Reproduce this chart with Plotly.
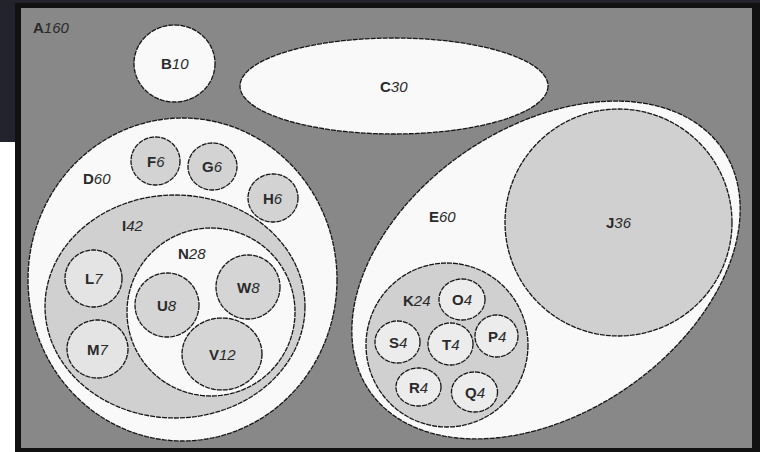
import numpy as np
import plotly.graph_objects as go

# ===== 数据：名称与数值 =====
names = ["A", "B", "C", "D", "E", "F", "G", "H", "I", "J", "K", "L",
         "M", "N", "O", "P", "Q", "R", "S", "T", "U", "V", "W"]
values = [160, 10, 30, 60, 60, 6, 6, 6, 42, 36, 24, 7,
          7, 28, 4, 4, 4, 4, 4, 4, 8, 12, 8]

# ===== 几何：中心、半轴、旋转角（像素坐标）=====
geom = {
    "B": (174.5, 63.5, 40.5, 38.5, 0),
    "C": (394, 86, 154, 48, 0),
    "D": (182.5, 279.5, 154.5, 161.5, 0),
    "E": (546, 270, 214, 143, 34.4),
    "F": (155.5, 161, 24.5, 24, 0),
    "G": (212.5, 166.5, 24.5, 23.5, 0),
    "H": (273, 198, 25, 24, 0),
    "I": (175, 306.5, 130, 111.5, 0),
    "J": (618.5, 222.5, 113.5, 113.5, 0),
    "K": (447, 345, 81, 82, 0),
    "L": (93.5, 278.5, 28.5, 28.5, 0),
    "M": (97.5, 349, 30.5, 29, 0),
    "N": (211, 312, 84, 84, 0),
    "O": (462, 299.5, 23, 20.5, 0),
    "P": (496.5, 336, 21.5, 21, 0),
    "Q": (474.5, 392, 23, 20, 0),
    "R": (418.5, 387, 22.5, 19, 0),
    "S": (397.5, 342, 22.5, 21, 0),
    "T": (450.5, 344, 22.5, 21, 0),
    "U": (167, 305, 32, 32, 0),
    "V": (222, 354, 40, 36, 0),
    "W": (248, 287, 32, 32, 0),
}

# 标签不在中心的
label_pos = {"A": (51, 27), "D": (97, 178), "E": (442, 216),
             "I": (133, 225), "K": (417, 300), "N": (192, 253)}

fills = {
    "B": "#f9f9f9", "C": "#f9f9f9", "D": "#f9f9f9", "E": "#f9f9f9",
    "F": "#d3d3d3", "G": "#d3d3d3", "H": "#d3d3d3", "I": "#d0d0d0",
    "J": "#d0d0d0", "K": "#d0d0d0",
    "L": "#e4e4e4", "M": "#e4e4e4", "N": "#f9f9f9",
    "O": "#ececec", "P": "#ececec", "Q": "#ececec", "R": "#ececec",
    "S": "#ececec", "T": "#ececec",
    "U": "#d5d5d5", "V": "#d5d5d5", "W": "#d5d5d5",
}


def ellipse_path(cx, cy, rx, ry, ang):
    t = np.linspace(0, 2 * np.pi, 160, endpoint=False)
    a = np.radians(ang)
    x = cx + rx * np.cos(t) * np.cos(a) + ry * np.sin(t) * np.sin(a)
    y = cy - rx * np.cos(t) * np.sin(a) + ry * np.sin(t) * np.cos(a)
    pts = " L ".join(f"{px:.2f},{py:.2f}" for px, py in zip(x, y))
    return "M " + pts + " Z"


W, H = 760, 452
fig = go.Figure()

shapes = [
    # 背景边条
    dict(type="rect", x0=0, x1=W, y0=0, y1=3, fillcolor="#23232d", line_width=0),
    dict(type="rect", x0=0, x1=15, y0=0, y1=142, fillcolor="#23232d", line_width=0),
    # 外框 A
    dict(type="rect", x0=15, x1=W, y0=3, y1=H, fillcolor="#111111", line_width=0),
    dict(type="rect", x0=21, x1=752, y0=8, y1=448, fillcolor="#888888", line_width=0),
]

for n in names[1:]:
    shapes.append(dict(
        type="path", path=ellipse_path(*geom[n]),
        fillcolor=fills[n],
        line=dict(color="#151515", width=1.3, dash="5px,1px"),
    ))

annotations = []
for n, v in zip(names, values):
    if n in label_pos:
        x, y = label_pos[n]
    else:
        x, y = geom[n][0], geom[n][1]
    annotations.append(dict(
        x=x, y=y, xref="x", yref="y", showarrow=False,
        text=f"<b>{n}</b><i>{v}</i>",
        font=dict(family="Liberation Sans, Arial", size=15, color="#2a2a2a"),
        xanchor="center", yanchor="middle",
    ))

fig.update_layout(
    width=W, height=H,
    margin=dict(l=0, r=0, t=0, b=0),
    paper_bgcolor="white", plot_bgcolor="white",
    shapes=shapes, annotations=annotations,
    showlegend=False,
)
fig.update_xaxes(range=[0, W], visible=False, fixedrange=True)
fig.update_yaxes(range=[H, 0], visible=False, fixedrange=True)

# 去掉页面默认边距，隐藏工具栏
fig.write_html("out.html", config={"displayModeBar": False},
               post_script="document.body.style.margin='0';")
